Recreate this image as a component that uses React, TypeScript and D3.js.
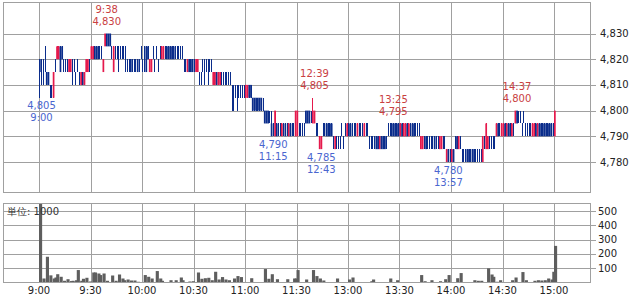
import React from "react";
import * as d3 from "d3";

const W = 633;
const H = 295;

const timeTicks = ["9:00", "9:30", "10:00", "10:30", "11:00", "11:30", "13:00", "13:30", "14:00", "14:30", "15:00"];
const priceTicks = [4780, 4790, 4800, 4810, 4820, 4830];
const volumeTicks = [100, 200, 300, 400, 500];
const volumeUnit = "単位: 1000";

type Candle = [number, number, number, number]; // open, high, low, close

// 9:00 - 9:29
const c0900: Candle[] = [
  [4820, 4820, 4805, 4815], [4815, 4820, 4810, 4815], [4815, 4820, 4810, 4815], [4820, 4825, 4815, 4820],
  [4815, 4815, 4810, 4810], [4815, 4815, 4810, 4810], [4810, 4810, 4805, 4810], [4805, 4810, 4805, 4805],
  [4805, 4815, 4805, 4815], [4815, 4820, 4815, 4815], [4820, 4825, 4820, 4825], [4820, 4825, 4820, 4825],
  [4825, 4825, 4815, 4815], [4825, 4825, 4820, 4820], [4820, 4820, 4815, 4820], [4815, 4820, 4815, 4815],
  [4820, 4820, 4815, 4820], [4815, 4820, 4815, 4820], [4815, 4820, 4815, 4820], [4815, 4820, 4810, 4815],
  [4820, 4820, 4815, 4820], [4815, 4815, 4810, 4815], [4815, 4820, 4815, 4815], [4810, 4815, 4810, 4810],
  [4810, 4815, 4810, 4815], [4815, 4815, 4810, 4810], [4810, 4815, 4810, 4815], [4815, 4820, 4815, 4820],
  [4815, 4820, 4815, 4820], [4820, 4820, 4815, 4820],
];
// 9:30 - 9:59
const c0930: Candle[] = [
  [4820, 4825, 4820, 4825], [4820, 4825, 4820, 4825], [4825, 4825, 4820, 4820], [4825, 4825, 4820, 4820],
  [4825, 4825, 4820, 4820], [4820, 4825, 4820, 4820], [4825, 4825, 4820, 4825], [4815, 4820, 4815, 4820],
  [4825, 4830, 4825, 4830], [4830, 4830, 4825, 4825], [4830, 4830, 4825, 4825], [4830, 4830, 4825, 4825],
  [4825, 4825, 4820, 4825], [4815, 4825, 4815, 4825], [4820, 4825, 4820, 4820], [4825, 4825, 4820, 4825],
  [4820, 4825, 4815, 4820], [4820, 4825, 4820, 4820], [4825, 4825, 4820, 4825], [4820, 4825, 4820, 4820],
  [4820, 4825, 4815, 4820], [4815, 4820, 4815, 4815], [4820, 4820, 4815, 4820], [4820, 4820, 4815, 4815],
  [4815, 4820, 4815, 4815], [4820, 4820, 4815, 4820], [4815, 4820, 4815, 4815], [4820, 4820, 4815, 4815],
  [4815, 4820, 4815, 4815], [4820, 4825, 4820, 4820],
];
// 10:00 - 10:29
const c1000: Candle[] = [
  [4815, 4820, 4815, 4815], [4820, 4825, 4815, 4820], [4825, 4825, 4815, 4815], [4825, 4825, 4820, 4820],
  [4815, 4820, 4815, 4820], [4815, 4820, 4815, 4820], [4820, 4825, 4820, 4820], [4815, 4820, 4815, 4815],
  [4820, 4825, 4820, 4820], [4815, 4820, 4815, 4815], [4820, 4825, 4820, 4820], [4820, 4825, 4820, 4825],
  [4820, 4825, 4820, 4825], [4825, 4825, 4820, 4825], [4825, 4825, 4820, 4820], [4825, 4825, 4820, 4820],
  [4825, 4825, 4820, 4820], [4825, 4825, 4820, 4820], [4825, 4825, 4820, 4820], [4820, 4825, 4820, 4820],
  [4825, 4825, 4820, 4825], [4820, 4825, 4820, 4820], [4825, 4825, 4820, 4825], [4820, 4825, 4820, 4820],
  [4815, 4820, 4815, 4815], [4820, 4820, 4815, 4820], [4815, 4820, 4815, 4820], [4820, 4820, 4815, 4815],
  [4820, 4820, 4815, 4815], [4820, 4820, 4815, 4815],
];
// 10:30 - 10:59
const c1030: Candle[] = [
  [4815, 4820, 4815, 4815], [4815, 4820, 4815, 4820], [4815, 4820, 4815, 4820], [4810, 4815, 4810, 4810],
  [4815, 4815, 4810, 4815], [4815, 4820, 4815, 4815], [4815, 4820, 4810, 4815], [4820, 4820, 4815, 4820],
  [4815, 4820, 4810, 4815], [4815, 4820, 4815, 4815], [4820, 4820, 4815, 4820], [4810, 4815, 4810, 4815],
  [4810, 4815, 4810, 4815], [4815, 4815, 4810, 4810], [4810, 4815, 4810, 4815], [4810, 4815, 4810, 4815],
  [4810, 4815, 4810, 4810], [4815, 4815, 4810, 4815], [4810, 4815, 4810, 4810], [4815, 4815, 4810, 4815],
  [4810, 4815, 4810, 4810], [4815, 4815, 4810, 4815], [4810, 4810, 4800, 4810], [4805, 4810, 4800, 4805],
  [4810, 4810, 4805, 4810], [4805, 4810, 4800, 4805], [4810, 4810, 4805, 4810], [4805, 4810, 4805, 4805],
  [4810, 4810, 4805, 4810], [4805, 4810, 4805, 4805],
];
// 11:00 - 11:29
const c1100: Candle[] = [
  [4805, 4810, 4805, 4810], [4805, 4810, 4805, 4810], [4810, 4810, 4805, 4805], [4810, 4810, 4805, 4805],
  [4805, 4805, 4800, 4800], [4805, 4805, 4800, 4800], [4805, 4805, 4800, 4800], [4805, 4805, 4800, 4800],
  [4805, 4805, 4800, 4800], [4805, 4805, 4800, 4800], [4800, 4805, 4800, 4800], [4800, 4800, 4795, 4795],
  [4800, 4800, 4795, 4795], [4800, 4800, 4795, 4795], [4795, 4800, 4795, 4795], [4795, 4800, 4790, 4790],
  [4790, 4795, 4790, 4790], [4790, 4800, 4790, 4800], [4795, 4795, 4790, 4790], [4790, 4795, 4790, 4790],
  [4795, 4795, 4790, 4795], [4790, 4795, 4790, 4795], [4790, 4795, 4790, 4790], [4795, 4795, 4790, 4790],
  [4790, 4795, 4790, 4790], [4790, 4795, 4790, 4795], [4795, 4795, 4790, 4790], [4790, 4795, 4790, 4790],
  [4795, 4795, 4790, 4795], [4790, 4800, 4790, 4800],
];
// 12:30 - 12:59
const c1230: Candle[] = [
  [4790, 4800, 4790, 4800], [4795, 4795, 4790, 4795], [4790, 4795, 4790, 4790], [4795, 4795, 4790, 4795],
  [4790, 4795, 4790, 4790], [4800, 4800, 4795, 4795], [4800, 4800, 4795, 4795], [4800, 4800, 4795, 4795],
  [4795, 4800, 4795, 4795], [4795, 4805, 4795, 4800], [4795, 4800, 4795, 4800], [4795, 4795, 4790, 4795],
  [4790, 4795, 4790, 4790], [4785, 4790, 4785, 4790], [4785, 4790, 4785, 4790], [4790, 4795, 4790, 4790],
  [4795, 4795, 4790, 4795], [4795, 4795, 4790, 4790], [4795, 4795, 4790, 4790], [4795, 4795, 4790, 4790],
  [4795, 4795, 4790, 4790], [4790, 4790, 4785, 4790], [4785, 4790, 4785, 4790], [4785, 4790, 4785, 4785],
  [4790, 4790, 4785, 4790], [4785, 4790, 4785, 4785], [4790, 4795, 4790, 4790], [4785, 4790, 4785, 4785],
  [4795, 4795, 4790, 4795], [4790, 4795, 4790, 4795],
];
// 13:00 - 13:29
const c1300: Candle[] = [
  [4795, 4795, 4790, 4790], [4795, 4795, 4790, 4790], [4790, 4795, 4790, 4790], [4795, 4795, 4790, 4795],
  [4790, 4795, 4790, 4790], [4790, 4795, 4790, 4795], [4790, 4795, 4790, 4790], [4795, 4795, 4790, 4795],
  [4790, 4795, 4790, 4790], [4790, 4795, 4790, 4795], [4795, 4795, 4790, 4795], [4790, 4795, 4790, 4790],
  [4790, 4790, 4785, 4790], [4785, 4790, 4785, 4785], [4790, 4790, 4785, 4790], [4785, 4790, 4785, 4785],
  [4790, 4790, 4785, 4785], [4790, 4790, 4785, 4785], [4785, 4790, 4785, 4790], [4790, 4790, 4785, 4785],
  [4790, 4790, 4785, 4785], [4790, 4790, 4785, 4785], [4785, 4790, 4785, 4785], [4790, 4795, 4790, 4790],
  [4795, 4795, 4790, 4795], [4795, 4795, 4790, 4790], [4795, 4795, 4790, 4790], [4795, 4795, 4790, 4790],
  [4795, 4795, 4790, 4790], [4795, 4795, 4790, 4790],
];
// 13:30 - 13:59
const c1330: Candle[] = [
  [4790, 4795, 4790, 4795], [4795, 4795, 4790, 4790], [4790, 4795, 4790, 4795], [4790, 4795, 4790, 4795],
  [4795, 4795, 4790, 4790], [4790, 4795, 4790, 4795], [4790, 4795, 4790, 4790], [4795, 4795, 4790, 4790],
  [4795, 4795, 4790, 4790], [4790, 4795, 4790, 4790], [4795, 4795, 4790, 4795], [4790, 4795, 4790, 4790],
  [4785, 4790, 4785, 4790], [4785, 4790, 4785, 4790], [4785, 4790, 4785, 4785], [4790, 4790, 4785, 4785],
  [4785, 4790, 4785, 4785], [4790, 4790, 4785, 4790], [4785, 4790, 4785, 4785], [4790, 4790, 4785, 4790],
  [4790, 4790, 4785, 4785], [4785, 4790, 4785, 4785], [4790, 4790, 4785, 4790], [4785, 4790, 4785, 4790],
  [4785, 4790, 4785, 4790], [4785, 4790, 4785, 4785], [4790, 4790, 4785, 4790], [4780, 4785, 4780, 4785],
  [4785, 4785, 4780, 4780], [4780, 4785, 4780, 4780],
];
// 14:00 - 14:29
const c1400: Candle[] = [
  [4780, 4785, 4780, 4785], [4785, 4785, 4780, 4780], [4785, 4790, 4785, 4785], [4790, 4790, 4785, 4785],
  [4785, 4790, 4785, 4790], [4785, 4790, 4785, 4785], [4780, 4785, 4780, 4780], [4785, 4785, 4780, 4785],
  [4780, 4785, 4780, 4780], [4785, 4785, 4780, 4780], [4785, 4785, 4780, 4780], [4780, 4785, 4780, 4780],
  [4785, 4785, 4780, 4780], [4785, 4785, 4780, 4780], [4780, 4785, 4780, 4780], [4785, 4785, 4780, 4785],
  [4780, 4785, 4780, 4780], [4785, 4785, 4780, 4785], [4780, 4790, 4780, 4790], [4785, 4790, 4785, 4785],
  [4785, 4795, 4785, 4795], [4785, 4790, 4785, 4790], [4785, 4790, 4785, 4785], [4790, 4790, 4785, 4790],
  [4785, 4790, 4785, 4785], [4790, 4790, 4785, 4790], [4790, 4795, 4790, 4795], [4795, 4795, 4790, 4790],
  [4790, 4795, 4790, 4790], [4790, 4795, 4790, 4795],
];
// 14:30 - 15:00
const c1430: Candle[] = [
  [4790, 4795, 4790, 4795], [4795, 4795, 4790, 4790], [4790, 4795, 4790, 4795], [4795, 4795, 4790, 4790],
  [4795, 4795, 4790, 4790], [4790, 4795, 4790, 4795], [4795, 4795, 4790, 4795], [4795, 4800, 4795, 4800],
  [4800, 4800, 4795, 4795], [4795, 4800, 4795, 4795], [4800, 4800, 4795, 4800], [4790, 4795, 4790, 4790],
  [4795, 4800, 4795, 4795], [4795, 4795, 4790, 4795], [4790, 4795, 4790, 4790], [4795, 4795, 4790, 4795],
  [4790, 4795, 4790, 4790], [4790, 4795, 4790, 4795], [4790, 4795, 4790, 4795], [4795, 4795, 4790, 4790],
  [4790, 4795, 4790, 4795], [4795, 4795, 4790, 4790], [4795, 4795, 4790, 4790], [4795, 4795, 4790, 4790],
  [4795, 4795, 4790, 4790], [4795, 4795, 4790, 4790], [4795, 4795, 4790, 4790], [4795, 4795, 4790, 4790],
  [4795, 4795, 4790, 4790], [4790, 4795, 4790, 4790], [4790, 4800, 4790, 4800],
];

const blockStarts = ["9:00", "9:30", "10:00", "10:30", "11:00", "12:30", "13:00", "13:30", "14:00", "14:30"];
const blocks = [c0900, c0930, c1000, c1030, c1100, c1230, c1300, c1330, c1400, c1430];

// volume (thousand shares)
const volTimes = [
  "9:00", "9:02", "9:04", "9:06", "9:08", "9:09", "9:10", "9:12", "9:14", "9:16", "9:18", "9:19", "9:21", "9:22",
  "9:24", "9:25", "9:27", "9:29", "9:31", "9:32", "9:34", "9:35", "9:37", "9:39", "9:42", "9:44", "9:46", "9:48",
  "9:49", "9:51", "9:53", "9:55", "9:57", "10:01", "10:03", "10:05", "10:08", "10:10", "10:11", "10:16", "10:19",
  "10:22", "10:23", "10:27", "10:29", "10:32", "10:34", "10:36", "10:38", "10:40", "10:42", "10:44", "10:46",
  "10:48", "10:50", "10:53", "10:55", "10:57", "11:01", "11:03", "11:11", "11:13", "11:15", "11:18", "11:24",
  "11:28", "11:29",
  "12:30", "12:35", "12:39", "12:41", "12:43", "12:45", "12:53", "13:00", "13:02", "13:13", "13:14", "13:24",
  "13:28", "13:42", "13:44", "13:48", "13:53", "13:56", "13:58", "14:03", "14:05", "14:13", "14:15", "14:17",
  "14:21", "14:23", "14:24", "14:26", "14:28", "14:35", "14:37", "14:41", "14:43", "14:48", "14:50", "14:52",
  "14:54", "14:56", "14:58", "14:59", "15:00",
];
const volValues = [
  620, 28, 180, 50, 28, 35, 58, 40, 12, 23, 10, 12, 16, 87,
  12, 26, 33, 7, 70, 70, 63, 52, 63, 12, 49, 12, 56, 28,
  16, 21, 14, 14, 5, 52, 40, 28, 80, 28, 12, 16, 16,
  35, 16, 7, 9, 70, 26, 30, 33, 16, 75, 21, 38,
  21, 16, 28, 45, 38, 3, 30, 94, 26, 58, 23, 23,
  28, 28,
  87, 21, 87, 45, 28, 14, 28, 21, 35, 9, 21, 28,
  16, 52, 9, 16, 9, 23, 52, 30, 66, 16, 12, 12,
  99, 56, 40, 5, 16, 16, 35, 73, 16, 12, 16, 14,
  16, 28, 21, 75, 256,
];

const annotations = [
  { time: "9:00", price: 4805, kind: "low" },
  { time: "9:38", price: 4830, kind: "high" },
  { time: "11:15", price: 4790, kind: "low" },
  { time: "12:39", price: 4805, kind: "high" },
  { time: "12:43", price: 4785, kind: "low" },
  { time: "13:25", price: 4795, kind: "high" },
  { time: "13:57", price: 4780, kind: "low" },
  { time: "14:37", price: 4800, kind: "high" },
];

function minuteIndex(t: string): number {
  const [h, m] = t.split(":").map(Number);
  const mins = h * 60 + m;
  if (mins <= 11 * 60 + 30) return mins - 9 * 60;
  return mins - (12 * 60 + 30) + 150;
}

const FONT = "'DejaVu Sans', Verdana, sans-serif";
const GRID = "#a0a0a0";
const RED = "#e5194c";
const BLUE = "#0b2d8b";
const RED_TXT = "#c9403f";
const BLUE_TXT = "#4a66cf";

export default function App() {
  const left = 3.5;
  const right = 590.5;
  const topY0 = 2.5;
  const topY1 = 192.5;
  const botY0 = 203.5;
  const botY1 = 282.5;

  const x = d3.scaleLinear().domain([0, 300]).range([39, 554]);
  const y = d3.scaleLinear().domain([4780, 4830]).range([162, 33.5]);
  const yv = d3.scaleLinear().domain([0, 500]).range([282.5, 211]);
  const step = x(1) - x(0);

  const candles: { i: number; o: number; h: number; l: number; c: number }[] = [];
  blocks.forEach((blk, bi) => {
    const s = minuteIndex(blockStarts[bi]);
    blk.forEach(([o, h, l, c], k) => candles.push({ i: s + k, o, h, l, c }));
  });

  const vols = volTimes.map((t, k) => ({ i: minuteIndex(t), v: volValues[k] }));

  const cx = (v: number) => Math.round(v) + 0.5;

  return (
    <svg width={W} height={H} style={{ display: "block", position: "absolute", left: 0, top: 0, background: "#fff" }} fontFamily={FONT}>
      <defs>
        <clipPath id="volClip">
          <rect x={left} y={botY0} width={right - left} height={botY1 - botY0} />
        </clipPath>
      </defs>
      <rect width={W} height={H} fill="#fff" />
      {/* grid */}
      <g stroke={GRID} strokeWidth={1} shapeRendering="crispEdges">
        {timeTicks.map((t) => (
          <line key={"vt" + t} x1={cx(x(minuteIndex(t)))} x2={cx(x(minuteIndex(t)))} y1={topY0} y2={topY1} />
        ))}
        {priceTicks.map((p) => (
          <line key={"hp" + p} x1={left} x2={right} y1={cx(y(p))} y2={cx(y(p))} />
        ))}
        {timeTicks.map((t) => (
          <line key={"vb" + t} x1={cx(x(minuteIndex(t)))} x2={cx(x(minuteIndex(t)))} y1={botY0} y2={botY1} />
        ))}
        {volumeTicks.map((v) => (
          <line key={"hv" + v} x1={left} x2={right} y1={cx(yv(v))} y2={cx(yv(v))} />
        ))}
        {priceTicks.map((p) => (
          <line key={"tp" + p} x1={right} x2={right + 5} y1={cx(y(p))} y2={cx(y(p))} />
        ))}
        {volumeTicks.map((v) => (
          <line key={"tv" + v} x1={right} x2={right + 5} y1={cx(yv(v))} y2={cx(yv(v))} />
        ))}
      </g>

      {/* candles */}
      <g>
        {candles.map((d) => {
          const x0 = x(d.i);
          const xm = Math.floor(x0 + step / 2) + 0.5;
          const up = d.c > d.o;
          const col = up ? RED : BLUE;
          return (
            <g key={"c" + d.i}>
              {d.h > d.l && (
                <line x1={xm} x2={xm} y1={y(d.h)} y2={y(d.l)} stroke={col} strokeWidth={1} shapeRendering="crispEdges" />
              )}
              {d.c !== d.o && (
                <rect x={x0} width={step} y={y(Math.max(d.o, d.c))} height={Math.abs(y(d.o) - y(d.c))} fill={col} />
              )}
            </g>
          );
        })}
      </g>

      {/* volume */}
      <g clipPath="url(#volClip)" fill="#5e5e5e">
        {vols.map((d) => (
          <rect key={"v" + d.i} x={x(d.i)} width={step * 2 - 0.3} y={yv(d.v)} height={yv(0) - yv(d.v)} />
        ))}
      </g>

      {/* frames */}
      <g fill="none" stroke={GRID} strokeWidth={1} shapeRendering="crispEdges">
        <rect x={left} y={topY0} width={right - left} height={topY1 - topY0} />
        <rect x={left} y={botY0} width={right - left} height={botY1 - botY0} />
      </g>

      {/* axis labels */}
      <g fontSize={10} fill="#222">
        {priceTicks.map((p) => (
          <text key={"lp" + p} x={600} y={y(p)} dy="0.35em">{d3.format(",")(p)}</text>
        ))}
        {volumeTicks.map((v) => (
          <text key={"lv" + v} x={598} y={yv(v)} dy="0.35em">{v}</text>
        ))}
        {timeTicks.map((t) => (
          <text key={"lt" + t} x={x(minuteIndex(t))} y={294} textAnchor="middle">{t}</text>
        ))}
        <text x={7} y={215} fill="#333">{volumeUnit}</text>
      </g>

      {/* annotations */}
      <g fontSize={10} textAnchor="middle">
        {annotations.map((a) => {
          const ax = x(minuteIndex(a.time)) + 2.5;
          const ay = y(a.price);
          const ps = d3.format(",")(a.price);
          if (a.kind === "high") {
            return (
              <g key={"a" + a.time} fill={RED_TXT}>
                <text x={ax} y={ay - 20.5}>{a.time}</text>
                <text x={ax} y={ay - 8.5}>{ps}</text>
              </g>
            );
          }
          return (
            <g key={"a" + a.time} fill={BLUE_TXT}>
              <text x={ax} y={ay + 11.5}>{ps}</text>
              <text x={ax} y={ay + 23.5}>{a.time}</text>
            </g>
          );
        })}
      </g>
    </svg>
  );
}
